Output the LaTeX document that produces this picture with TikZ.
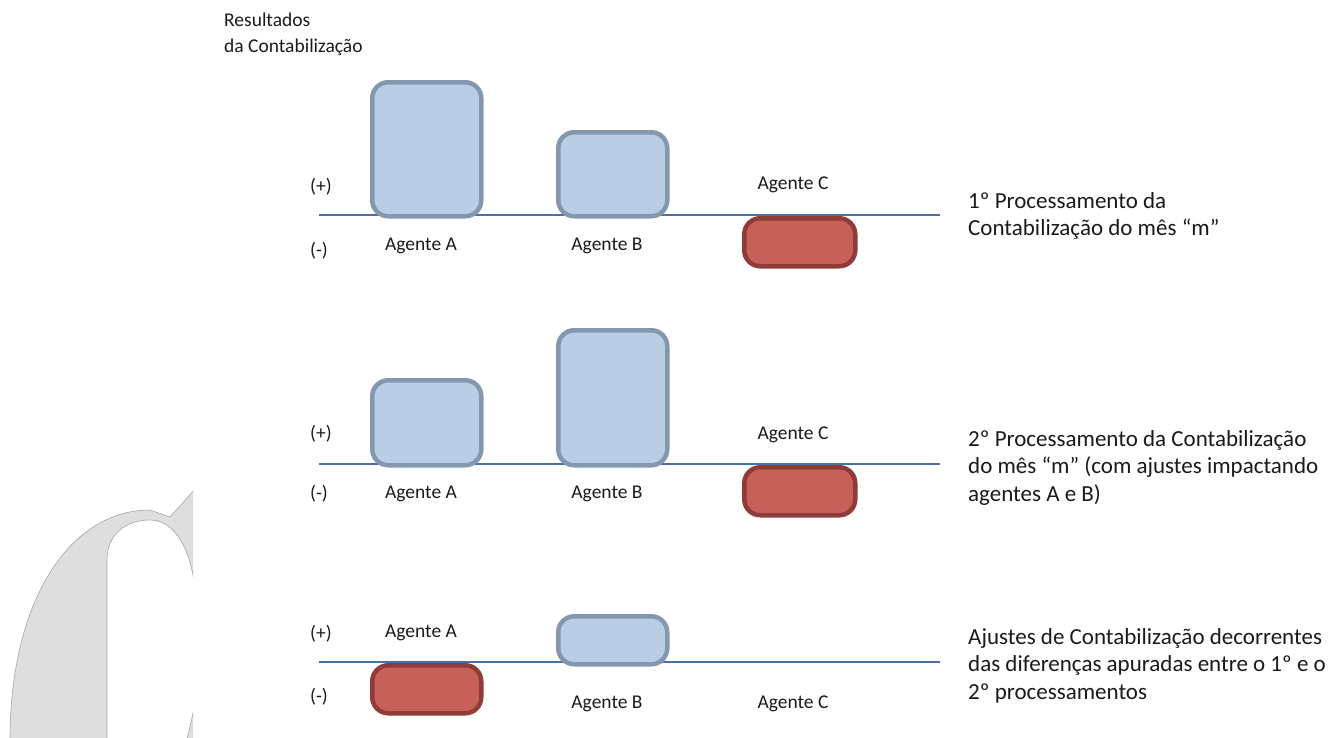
\documentclass[tikz,border=0pt]{standalone}
\usepackage{fontspec}
\setmainfont{Carlito}
\definecolor{boxfill}{HTML}{B9CDE5}
\definecolor{boxline}{HTML}{8597AF}
\definecolor{negfill}{HTML}{C8605A}
\definecolor{negline}{HTML}{8F3C38}
\definecolor{axiscol}{HTML}{4A6EA8}
\definecolor{txt}{HTML}{1A1A1A}
\definecolor{wm}{HTML}{DEDEDE}
\begin{document}
\begin{tikzpicture}[x=1pt,y=-1pt,
  bar/.style={draw, line width=4.5pt, rounded corners=16pt, inner sep=0pt, anchor=north west},
  posbar/.style={bar, fill=boxfill, draw=boxline},
  negbar/.style={bar, fill=negfill, draw=negline},
  lbl/.style={font=\fontsize{19.5}{24}\selectfont, text=txt, inner sep=0pt},
  desc/.style={font=\fontsize{23}{27.5}\selectfont, text=txt, inner sep=0pt, align=left, anchor=north west},
  axisline/.style={draw=axiscol, line width=1.3pt}]
\useasboundingbox (0,0) rectangle (1332,737);

% watermark
\begin{scope}
\clip (0,480) rectangle (193,737);
\path[fill=wm, draw=gray!70, line width=0.6pt, even odd rule]
  (10,740) .. controls (10,600) and (70,510) .. (150,510) -- (170,517) -- (196,488) -- (196,740) -- cycle
  (107,740) -- (107,560) .. controls (107,535) and (125,520) .. (150,520) .. controls (175,520) and (193,550) .. (196,600) -- (196,700) -- (187,740) -- cycle;
\end{scope}

% title
\node[lbl, align=left, anchor=north west, font=\fontsize{19.5}{26}\selectfont] (title) at (224,13) {Resultados\\da Contabilização};

% ---- panel 1
\coordinate (p1s) at (319,215);
\coordinate (p1e) at (940,215);
\draw[axisline] (p1s) -- (p1e);
\node[posbar, minimum width=109pt, minimum height=134pt] (p1a) at (370,80) {};
\node[posbar, minimum width=109pt, minimum height=84pt] (p1b) at (556,130) {};
\node[negbar, minimum width=111pt, minimum height=48pt] (p1c) at (742,216) {};
\node[lbl] (p1plus) at (321,187) {(+)};
\node[lbl] (p1minus) at (319,251) {(-)};
\node[lbl] (p1la) at (421,246) {Agente A};
\node[lbl] (p1lb) at (607,246) {Agente B};
\node[lbl] (p1lc) at (793,185) {Agente C};
\node[desc] (p1d) at (968,192) {1º Processamento da\\Contabilização do mês “m”};

% ---- panel 2
\coordinate (p2s) at (319,464);
\coordinate (p2e) at (940,464);
\draw[axisline] (p2s) -- (p2e);
\node[posbar, minimum width=109pt, minimum height=85pt] (p2a) at (370,378) {};
\node[posbar, minimum width=109pt, minimum height=135pt] (p2b) at (556,328) {};
\node[negbar, minimum width=111pt, minimum height=48pt] (p2c) at (742,465) {};
\node[lbl] (p2plus) at (321,434) {(+)};
\node[lbl] (p2minus) at (319,494) {(-)};
\node[lbl] (p2la) at (421,494) {Agente A};
\node[lbl] (p2lb) at (607,494) {Agente B};
\node[lbl] (p2lc) at (793,435) {Agente C};
\node[desc] (p2d) at (968,430) {2º Processamento da Contabilização\\do mês “m” (com ajustes impactando\\agentes A e B)};

% ---- panel 3
\coordinate (p3s) at (319,662);
\coordinate (p3e) at (940,662);
\draw[axisline] (p3s) -- (p3e);
\node[negbar, minimum width=109pt, minimum height=48pt] (p3a) at (370,663) {};
\node[posbar, minimum width=109pt, minimum height=48pt] (p3b) at (556,614) {};
\node[lbl] (p3plus) at (321,634) {(+)};
\node[lbl] (p3minus) at (319,697) {(-)};
\node[lbl] (p3la) at (421,633) {Agente A};
\node[lbl] (p3lb) at (607,704) {Agente B};
\node[lbl] (p3lc) at (793,704) {Agente C};
\node[desc] (p3d) at (968,628) {Ajustes de Contabilização decorrentes\\das diferenças apuradas entre o 1º e o\\2º processamentos};
\end{tikzpicture}
\end{document}
